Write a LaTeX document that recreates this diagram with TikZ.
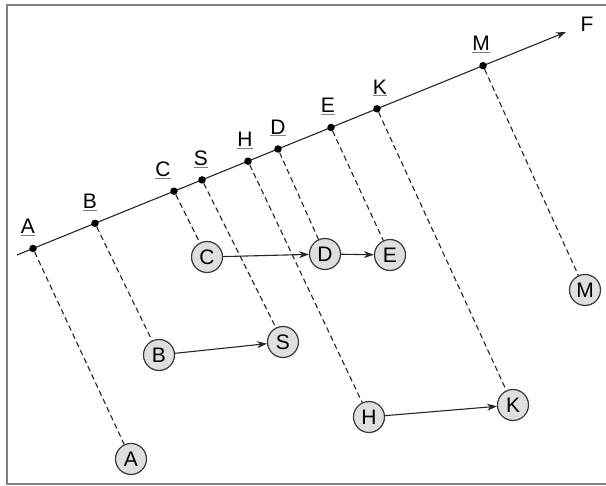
\documentclass[tikz,border=0pt]{standalone}
\usepackage{fontspec}
\setmainfont{Liberation Sans}
\usetikzlibrary{arrows.meta}
\newcommand\ulab[1]{{\color{gray}\underline{\color{black}#1}}}
\begin{document}
\begin{tikzpicture}[x=1pt,y=-1pt,
  every node/.style={font=\fontsize{21}{21}\selectfont},
  pt/.style={circle,fill=black,inner sep=0pt,minimum size=7.5pt},
  lbl/.style={inner sep=0pt,yshift=21pt},
  ball/.style={circle,draw=gray!45!black,fill=gray!25,line width=1.2pt,minimum size=31pt,inner sep=0pt},
  proj/.style={dash pattern=on 5.5pt off 3.5pt,line width=1.1pt,black!85},
  move/.style={-{Stealth[length=10pt,width=7pt]},line width=1.1pt,black!85}]
  \useasboundingbox (0,0) rectangle (606,486);
  % frame
  \draw[gray,line width=1.2pt] (606,5) -- (7,5) -- (7,484) -- (606,484);
  % axis
  \coordinate (o) at (17,255);
  \coordinate (tip) at (566,32);
  \draw[move] (o) -- (tip);
  \node (F) at (587,24) {F};
  % points on the axis
  \node[pt,label={[lbl,xshift=-5pt]center:\ulab{A}}] (pA) at (33,248.5) {};
  \node[pt,label={[lbl,xshift=-5pt]center:\ulab{B}}] (pB) at (95,223.3) {};
  \node[pt,label={[lbl,xshift=-11pt]center:\ulab{C}}] (pC) at (174,191.2) {};
  \node[pt,label={[lbl,xshift=-1pt]center:\ulab{S}}] (pS) at (202,179.9) {};
  \node[pt,label={[lbl,xshift=-3pt]center:\ulab{H}}] (pH) at (248,161.2) {};
  \node[pt,label={[lbl]center:\ulab{D}}] (pD) at (278,149) {};
  \node[pt,label={[lbl,xshift=-3pt]center:\ulab{E}}] (pE) at (331,127.5) {};
  \node[pt,label={[lbl,xshift=3pt]center:\ulab{K}}] (pK) at (377,108.8) {};
  \node[pt,label={[lbl,xshift=-2pt]center:\ulab{M}}] (pM) at (483,65.7) {};
  % projected points
  \node[ball] (A) at (131,459) {A};
  \node[ball] (B) at (159,355) {B};
  \node[ball] (C) at (207,257) {C};
  \node[ball] (S) at (283,342) {S};
  \node[ball] (H) at (369,417) {H};
  \node[ball] (D) at (325,254) {D};
  \node[ball] (E) at (390,255) {E};
  \node[ball] (K) at (513,405) {K};
  \node[ball] (M) at (585,290) {M};
  % projections
  \foreach \n in {A,B,C,S,H,D,E,K,M}
    \draw[proj] (p\n) -- (\n);
  % moves
  \draw[move] (C) -- (D);
  \draw[move] (D) -- (E);
  \draw[move] (B) -- (S);
  \draw[move] (H) -- (K);
\end{tikzpicture}
\end{document}
